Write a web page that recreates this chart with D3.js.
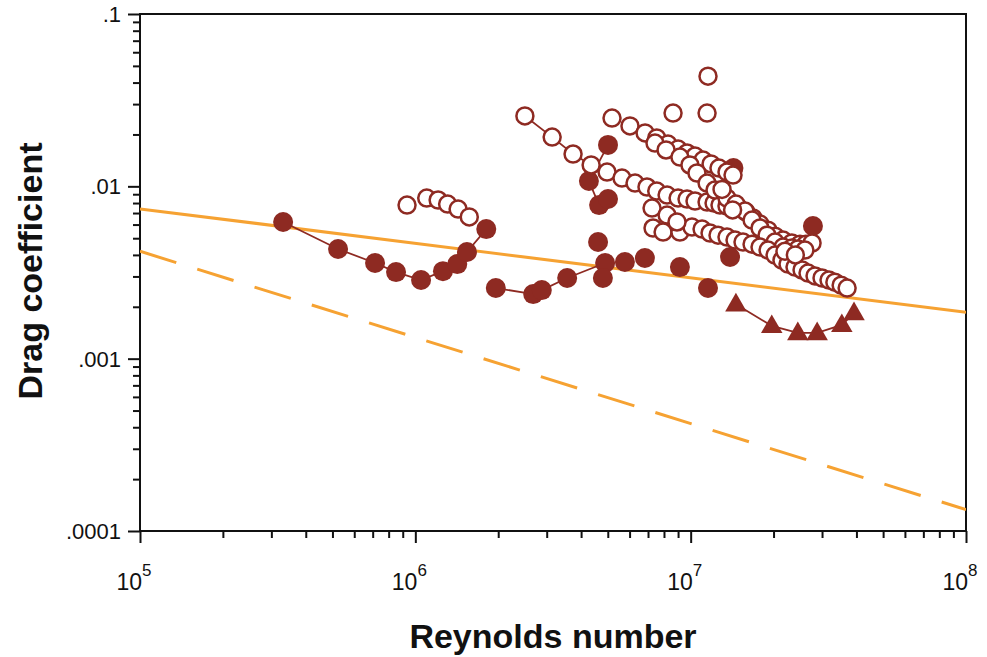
<!DOCTYPE html>
<html>
<head>
<meta charset="utf-8">
<script src="https://cdn.jsdelivr.net/npm/d3@7"></script>
<style>
  html, body { margin: 0; padding: 0; background: #fff; }
  svg { display: block; }
  text { font-family: "Liberation Sans", Arial, Helvetica, sans-serif; }
</style>
</head>
<body>
<svg id="chart" width="987" height="657"></svg>
<script>
// ---------------- DATA ----------------
// Reference curves (values at Re = 1e5 and 1e8)
const curveRe = [1e5, 1e8];
const turbulentCd = [0.0074, 0.00186];   // solid orange
const laminarCd = [0.0042, 0.000133];    // dashed orange

// Filled circles, series 1 (connected)
const filled1Re = [3.31e5, 5.24e5, 7.14e5, 8.51e5, 1.049e6, 1.26e6, 1.42e6, 1.54e6, 1.81e6];
const filled1Cd = [0.00621, 0.00433, 0.00359, 0.00318, 0.00286, 0.00322, 0.00354, 0.00416, 0.00565];

// Filled circles, series 2 (connected)
const filled2Re = [1.96e6, 2.68e6, 2.88e6, 3.56e6, 4.89e6];
const filled2Cd = [0.00257, 0.00237, 0.00250, 0.00294, 0.00359];

// Filled circles, upper cluster (connected)
const filled3Re = [5.01e6, 4.27e6, 4.65e6, 5.01e6];
const filled3Cd = [0.0174, 0.01074, 0.00778, 0.00844];

// Filled circles, isolated
const filled4Re = [4.61e6, 4.80e6, 5.77e6, 6.82e6, 9.14e6, 1.156e7, 1.39e7, 1.43e7, 2.78e7];
const filled4Cd = [0.00475, 0.00294, 0.00364, 0.00384, 0.00340, 0.00257, 0.00389, 0.01277, 0.00589];

// Triangles (connected)
const triRe = [1.46e7, 1.97e7, 2.45e7, 2.88e7, 3.54e7, 3.92e7];
const triCd = [0.00207, 0.00155, 0.00141, 0.00141, 0.00157, 0.00184];

// Open circles near Re = 1e6
const open1Re = [9.33e5, 1.10e6, 1.21e6, 1.31e6, 1.43e6, 1.57e6];
const open1Cd = [0.00778, 0.00855, 0.00833, 0.00789, 0.00738, 0.00664];

// Open circles, series A (connected)
const openARe = [2.50e6, 3.14e6, 3.74e6, 4.35e6, 4.97e6, 5.63e6, 6.28e6, 6.94e6, 7.53e6, 8.21e6, 9.00e6, 9.70e6, 1.037e7, 1.147e7, 1.216e7, 1.278e7, 1.355e7, 1.486e7, 1.589e7, 1.684e7, 1.786e7, 1.91e7, 2.025e7, 2.165e7, 2.33e7, 2.495e7, 2.62e7, 2.76e7];
const openACd = [0.0256, 0.0193, 0.0154, 0.0133, 0.0121, 0.01117, 0.01045, 0.00991, 0.00939, 0.00890, 0.00855, 0.00844, 0.00822, 0.00811, 0.00800, 0.00778, 0.00769, 0.00758, 0.00709, 0.00655, 0.00604, 0.00557, 0.00514, 0.00488, 0.00469, 0.00462, 0.00462, 0.00469];

// Open circles, series B (top band)
const openBRe = [5.18e6, 6.02e6, 6.83e6, 7.53e6, 8.27e6, 9.00e6, 9.70e6, 1.037e7, 1.109e7, 1.186e7, 1.267e7, 1.355e7, 1.425e7];
const openBCd = [0.0249, 0.0224, 0.0204, 0.0191, 0.0176, 0.01646, 0.01561, 0.01499, 0.01421, 0.01348, 0.01277, 0.01211, 0.01163];

// Open circles, series C
const openCRe = [7.42e6, 8.14e6, 9.14e6, 9.94e6, 1.054e7, 1.147e7, 1.226e7, 1.355e7, 1.461e7, 1.576e7, 1.671e7, 1.786e7, 1.894e7, 2.025e7, 2.165e7, 2.33e7, 2.455e7, 2.60e7];
const openCCd = [0.01783, 0.01625, 0.01479, 0.01330, 0.01195, 0.01045, 0.00952, 0.00855, 0.00789, 0.00719, 0.00637, 0.00573, 0.00521, 0.00475, 0.00444, 0.00438, 0.00433, 0.00427];

// Open circles, series D (lower band)
const openDRe = [7.30e6, 7.94e6, 9.14e6, 1.011e7, 1.10e7, 1.176e7, 1.257e7, 1.355e7, 1.449e7, 1.549e7, 1.671e7, 1.786e7, 1.91e7, 2.025e7, 2.146e7, 2.257e7, 2.393e7, 2.538e7, 2.668e7, 2.83e7, 3.00e7, 3.18e7, 3.34e7, 3.52e7, 3.70e7];
const openDCd = [0.00573, 0.00543, 0.00543, 0.00580, 0.00565, 0.00536, 0.00521, 0.00508, 0.00488, 0.00475, 0.00462, 0.00444, 0.00427, 0.00399, 0.00373, 0.00354, 0.00340, 0.00327, 0.00314, 0.00302, 0.00294, 0.00286, 0.00278, 0.00267, 0.00257];

// Open circles, extras
const openERe = [7.24e6, 8.21e6, 8.92e6, 1.156e7, 8.63e6, 1.147e7, 1.42e7, 1.30e7, 2.20e7, 2.40e7];
const openECd = [0.00748, 0.00681, 0.00621, 0.0436, 0.0266, 0.0266, 0.00730, 0.00960, 0.00420, 0.00400];

// Axis labels
const yTickValues = [0.0001, 0.001, 0.01, 0.1];
const yTickLabels = [".0001", ".001", ".01", ".1"];
const xTickValues = [1e5, 1e6, 1e7, 1e8];
const xTickExponents = ["5", "6", "7", "8"];
const xTitle = "Reynolds number";
const yTitle = "Drag coefficient";

// ---------------- DRAW ----------------
const RED = "#8e2a22";
const ORANGE = "#f6a232";
const svg = d3.select("#chart");
const L = 140, R = 966, T = 14, B = 531;
const x = d3.scaleLog().domain([1e5, 1e8]).range([L, R]);
const y = d3.scaleLog().domain([1e-4, 0.1]).range([B, T]);

const zip = (a, b) => a.map((v, i) => [v, b[i]]);

// Minor + major tick values
const xAll = x.ticks(30).filter(v => v >= 1e5 && v <= 1e8);
const yAll = y.ticks(30).filter(v => v >= 1e-4 && v <= 0.1);
const isMajor = v => Math.abs(Math.log10(v) - Math.round(Math.log10(v))) < 1e-9;

// Y axis
const yAxisG = svg.append("g").attr("transform", `translate(${L},0)`)
  .call(d3.axisLeft(y).tickValues(yAll).tickSize(7).tickFormat(""));
yAxisG.select(".domain").remove();
yAxisG.selectAll(".tick line").attr("stroke", "#111").attr("stroke-width", 2)
  .attr("x2", d => isMajor(d) ? -12 : -7);
svg.append("g").selectAll("text").data(yTickValues).join("text")
  .attr("x", 121).attr("y", d => y(d)).attr("dy", "0.36em")
  .attr("text-anchor", "end").attr("font-size", 22).attr("fill", "#111")
  .text((d, i) => yTickLabels[i]);

// X axis
const xAxisG = svg.append("g").attr("transform", `translate(0,${B})`)
  .call(d3.axisBottom(x).tickValues(xAll).tickSize(7).tickFormat(""));
xAxisG.select(".domain").remove();
xAxisG.selectAll(".tick line").attr("stroke", "#111").attr("stroke-width", 2)
  .attr("y2", d => isMajor(d) ? 12 : 7);
const xl = svg.append("g").selectAll("text").data(xTickValues).join("text")
  .attr("x", d => x(d) - 6).attr("y", 590)
  .attr("text-anchor", "middle").attr("font-size", 23).attr("fill", "#111");
xl.append("tspan").text("10");
xl.append("tspan").attr("dy", -14).attr("font-size", 17).text((d, i) => xTickExponents[i]);

// Frame
svg.append("rect").attr("x", L).attr("y", T).attr("width", R - L).attr("height", B - T)
  .attr("fill", "none").attr("stroke", "#111").attr("stroke-width", 2);

// Titles
svg.append("text").attr("x", 553).attr("y", 648).attr("text-anchor", "middle")
  .attr("font-size", 34).attr("font-weight", "bold").attr("fill", "#111").text(xTitle);
svg.append("text").attr("transform", "translate(42,271) rotate(-90)").attr("text-anchor", "middle")
  .attr("font-size", 34).attr("font-weight", "bold").attr("fill", "#111").text(yTitle);

// Plot clip
svg.append("clipPath").attr("id", "clip").append("rect")
  .attr("x", L).attr("y", T).attr("width", R - L).attr("height", B - T);
const plot = svg.append("g").attr("clip-path", "url(#clip)");

const line = d3.line().x(d => x(d[0])).y(d => y(d[1]));

// Reference curves
plot.append("path").datum(zip(curveRe, turbulentCd)).attr("d", line)
  .attr("fill", "none").attr("stroke", ORANGE).attr("stroke-width", 3);
plot.append("path").datum(zip(curveRe, laminarCd)).attr("d", line)
  .attr("fill", "none").attr("stroke", ORANGE).attr("stroke-width", 3)
  .attr("stroke-dasharray", "38,22");

// Connecting lines
[[filled1Re, filled1Cd], [filled2Re, filled2Cd], [filled3Re, filled3Cd], [triRe, triCd], [openARe, openACd]]
  .forEach(([a, b]) => {
    plot.append("path").datum(zip(a, b)).attr("d", line)
      .attr("fill", "none").attr("stroke", RED).attr("stroke-width", 1.8);
  });

// Filled circles
const filledAll = [].concat(zip(filled1Re, filled1Cd), zip(filled2Re, filled2Cd),
  zip(filled3Re, filled3Cd), zip(filled4Re, filled4Cd));
plot.append("g").selectAll("circle").data(filledAll).join("circle")
  .attr("cx", d => x(d[0])).attr("cy", d => y(d[1])).attr("r", 10).attr("fill", RED);

// Triangles
plot.append("g").selectAll("path").data(zip(triRe, triCd)).join("path")
  .attr("transform", d => `translate(${x(d[0])},${y(d[1]) + 1})`)
  .attr("d", d3.symbol().type(d3.symbolTriangle).size(200)).attr("fill", RED);

// Open circles
const openAll = [].concat(zip(open1Re, open1Cd), zip(openARe, openACd), zip(openBRe, openBCd),
  zip(openCRe, openCCd), zip(openDRe, openDCd), zip(openERe, openECd));
plot.append("g").selectAll("circle").data(openAll).join("circle")
  .attr("cx", d => x(d[0])).attr("cy", d => y(d[1])).attr("r", 8.5)
  .attr("fill", "#fff").attr("stroke", RED).attr("stroke-width", 2.5);
</script>
</body>
</html>
